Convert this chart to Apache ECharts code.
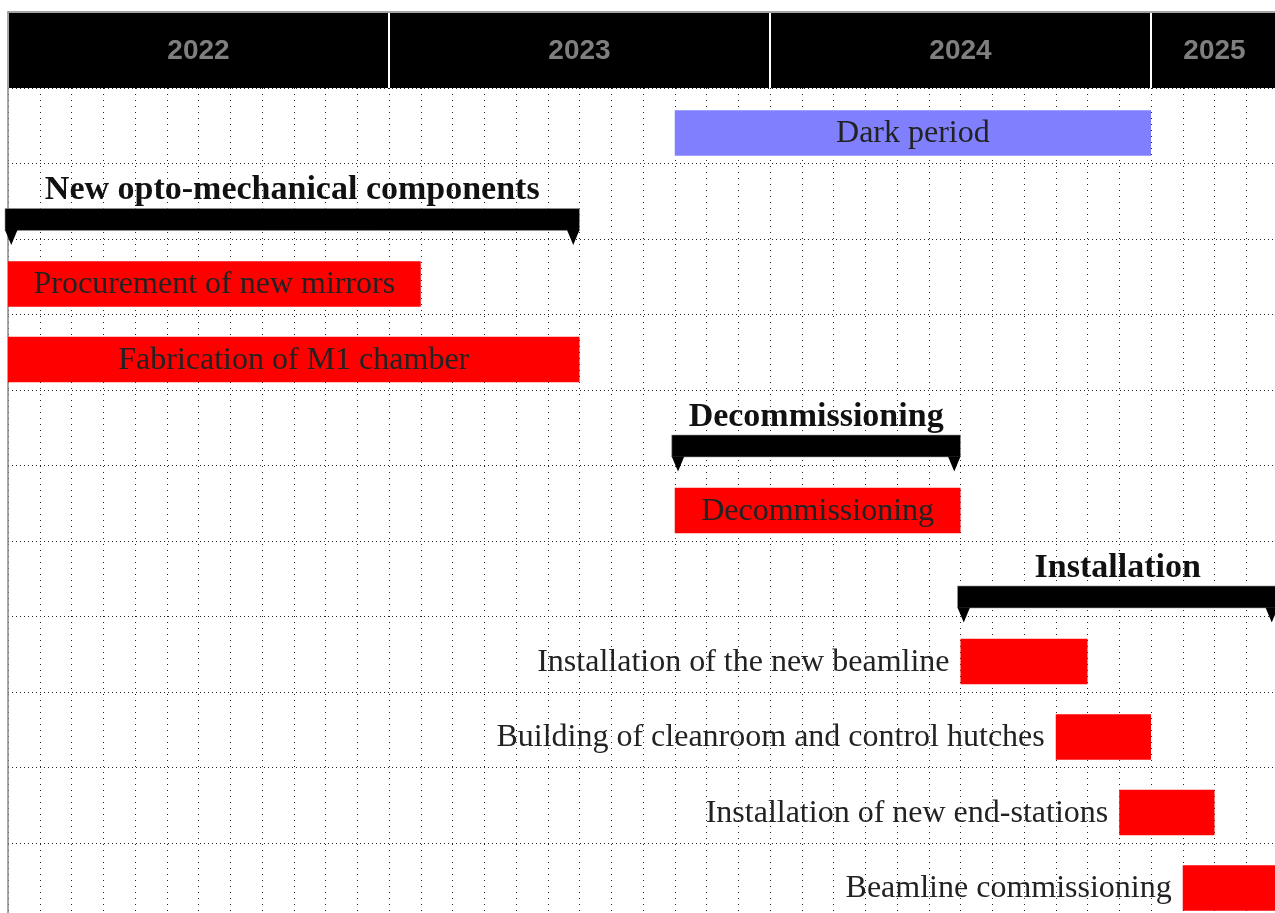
<!DOCTYPE html>
<html>
<head>
<meta charset="utf-8">
<script src="https://cdn.jsdelivr.net/npm/echarts@6/dist/echarts.min.js"></script>
<style>
html,body{margin:0;padding:0;background:#fff;}
#chart{width:1275px;height:913px;}
</style>
</head>
<body>
<div id="chart"></div>
<script>
// Timeline in months from Jan 2022 (0) to Apr 2025 end (40)
const years = ['2022', '2023', '2024', '2025'];
const yearStart = [0, 12, 24, 36];
const yearEnd = [12, 24, 36, 40];

const rowNames = [
  'Dark period',
  'New opto-mechanical components',
  'Procurement of new mirrors',
  'Fabrication of M1 chamber',
  'Decommissioning (group)',
  'Decommissioning',
  'Installation',
  'Installation of the new beamline',
  'Building of cleanroom and control hutches',
  'Installation of new end-stations',
  'Beamline commissioning'
];

const barLabels = ['Dark period', 'Procurement of new mirrors', 'Fabrication of M1 chamber', 'Decommissioning',
  'Installation of the new beamline', 'Building of cleanroom and control hutches', 'Installation of new end-stations', 'Beamline commissioning'];
const barRows = [0, 2, 3, 5, 7, 8, 9, 10];
const barStart = [21, 0, 0, 21, 30, 33, 35, 37];
const barEnd = [36, 13, 18, 30, 34, 36, 38, 40];
const barKind = ['dark', 'task', 'task', 'task', 'task', 'task', 'task', 'task'];
const barLabelInside = [true, true, true, true, false, false, false, false];

const groupLabels = ['New opto-mechanical components', 'Decommissioning', 'Installation'];
const groupRows = [1, 4, 6];
const groupStart = [0, 21, 30];
const groupEnd = [18, 30, 40];

const SERIF = '"Liberation Serif", "Times New Roman", serif';

const chart = echarts.init(document.getElementById('chart'), null, {renderer: 'canvas'});

const option = {
  animation: false,
  grid: [
    {left: 8, top: 12, width: 1270, height: 76, outerBoundsMode: 'none', containLabel: false},
    {left: 8, top: 88, width: 1270, height: 830.5, outerBoundsMode: 'none', containLabel: false}
  ],
  xAxis: [
    {gridIndex: 0, type: 'value', min: 0, max: 40, position: 'top',
      axisLine: {show: true, lineStyle: {color: '#888', width: 1.5}}, axisTick: {show: false},
      axisLabel: {show: false}, splitLine: {show: false}},
    {gridIndex: 1, type: 'value', min: 0, max: 40, interval: 1,
      axisLine: {show: false}, axisTick: {show: false}, axisLabel: {show: false},
      splitLine: {show: true, lineStyle: {type: [1, 5], color: '#222', width: 1}}}
  ],
  yAxis: [
    {gridIndex: 0, type: 'category', data: ['header'],
      axisLine: {show: true, onZero: false, lineStyle: {color: '#888', width: 1.5}}, axisTick: {show: false},
      axisLabel: {show: false}, splitLine: {show: false}},
    {gridIndex: 1, type: 'category', data: rowNames, inverse: true,
      axisLine: {show: true, onZero: false, lineStyle: {color: '#888', width: 1.5}}, axisTick: {show: false},
      axisLabel: {show: false},
      splitLine: {show: true, lineStyle: {type: [1, 3], color: '#222', width: 1}}}
  ],
  series: [
    {
      type: 'custom', xAxisIndex: 0, yAxisIndex: 0,
      data: years.map((y, i) => [yearStart[i], yearEnd[i], 0, i]),
      renderItem: function (params, api) {
        const i = api.value(3);
        const s = api.coord([api.value(0), 0]);
        const e = api.coord([api.value(1), 0]);
        const h = api.size([0, 1])[1];
        const top = s[1] - h / 2;
        const x0 = s[0] + 1;
        const x1 = e[0] - (i < years.length - 1 ? 1 : 0);
        return {
          type: 'group',
          children: [
            {type: 'rect', shape: {x: x0, y: top + 1, width: x1 - x0, height: h - 1}, style: {fill: '#000'}},
            {type: 'text', style: {text: years[i], x: (s[0] + e[0]) / 2, y: s[1] + 1, align: 'center', verticalAlign: 'middle',
              font: 'bold 28px "Liberation Sans", Arial, sans-serif', fill: '#7f7f7f'}}
          ]
        };
      }
    },
    {
      type: 'custom', xAxisIndex: 1, yAxisIndex: 1,
      data: barLabels.map((n, i) => [barStart[i], barEnd[i], barRows[i], i]),
      renderItem: function (params, api) {
        const i = api.value(3);
        const s = api.coord([api.value(0), api.value(2)]);
        const e = api.coord([api.value(1), api.value(2)]);
        const rowH = api.size([0, 1])[1];
        const top = s[1] - rowH / 2 + rowH * 0.295;
        const h = rowH * 0.603;
        const inside = barLabelInside[i];
        return {
          type: 'group',
          children: [
            {type: 'rect', shape: {x: s[0], y: top, width: e[0] - s[0], height: h},
              style: {fill: barKind[i] === 'dark' ? '#8080ff' : '#ff0000'}},
            {type: 'text', style: {text: barLabels[i], x: inside ? (s[0] + e[0]) / 2 : s[0] - 11, y: top + h / 2 + 1,
              align: inside ? 'center' : 'right', verticalAlign: 'middle', font: '32px ' + SERIF, fill: '#222'}}
          ]
        };
      }
    },
    {
      type: 'custom', xAxisIndex: 1, yAxisIndex: 1,
      data: groupLabels.map((n, i) => [groupStart[i], groupEnd[i], groupRows[i], i]),
      renderItem: function (params, api) {
        const i = api.value(3);
        const s = api.coord([api.value(0), api.value(2)]);
        const e = api.coord([api.value(1), api.value(2)]);
        const rowH = api.size([0, 1])[1];
        const rowTop = s[1] - rowH / 2;
        const barTop = rowTop + rowH * 0.596;
        const barBot = rowTop + rowH * 0.887;
        const tipY = rowTop + rowH * 1.08;
        const x0 = s[0] - 3;
        const x1 = e[0];
        const tw = 12.5;
        return {
          type: 'group',
          children: [
            {type: 'rect', shape: {x: x0, y: barTop, width: x1 - x0, height: barBot - barTop},
              style: {fill: '#000', stroke: '#999', lineWidth: 0.6}},
            {type: 'polygon', shape: {points: [[x0, barBot - 0.5], [x0 + tw, barBot - 0.5], [x0 + tw / 2, tipY]]}, style: {fill: '#000'}},
            {type: 'polygon', shape: {points: [[x1 - tw, barBot - 0.5], [x1, barBot - 0.5], [x1 - tw / 2, tipY]]}, style: {fill: '#000'}},
            {type: 'text', style: {text: groupLabels[i], x: (x0 + x1) / 2, y: rowTop + rowH * 0.36,
              align: 'center', verticalAlign: 'middle', font: 'bold 34px ' + SERIF, fill: '#111'}}
          ]
        };
      }
    }
  ]
};

chart.setOption(option);
</script>
</body>
</html>
